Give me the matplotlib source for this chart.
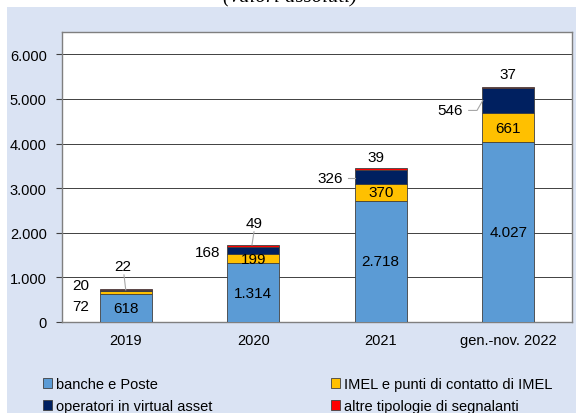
import numpy as np
import matplotlib.pyplot as plt
from matplotlib.patches import Rectangle

plt.rcParams['font.family'] = ['Liberation Sans', 'DejaVu Sans']

# Data
categories = ["2019", "2020", "2021", "gen.-nov. 2022"]
banche = [618, 1314, 2718, 4027]
imel = [72, 199, 370, 661]
virtual = [20, 168, 326, 546]
altre = [22, 49, 39, 37]
series_names = ["banche e Poste", "IMEL e punti di contatto di IMEL",
                "operatori in virtual asset", "altre tipologie di segnalanti"]
colors = ["#5B9BD5", "#FFC000", "#002060", "#FF0000"]
yticks = [0, 1000, 2000, 3000, 4000, 5000, 6000]


def fmt(v):
    return f"{v:,}".replace(",", ".")


fig = plt.figure(figsize=(5.76, 4.14), dpi=100)
# light blue panel behind the chart
fig.patches.append(Rectangle((7 / 576, 0), 1, (414 - 8) / 414, transform=fig.transFigure,
                             facecolor="#DAE3F3", edgecolor="none", zorder=-10))
# title, mostly cropped off at the top
fig.text(0.503, 1 - 7 / 414, "(valori assoluti)", ha="center", va="bottom", fontsize=15,
         style="italic", family="Liberation Serif")

ax = fig.add_axes([62 / 576, 1 - 323 / 414, (572 - 62) / 576, (323 - 33) / 414])
ax.set_facecolor("white")

x = np.arange(len(categories))
w = 0.41
bottom = np.zeros(len(categories))
handles = []
for vals, col, name in zip([banche, imel, virtual, altre], colors, series_names):
    b = ax.bar(x, vals, w, bottom=bottom, color=col, edgecolor="#404040", linewidth=0.6,
               label=name, zorder=3)
    handles.append(b)
    bottom += np.array(vals)

ax.set_xlim(-0.5, 3.5)
ax.set_ylim(0, 6500)
ax.set_yticks(yticks)
ax.set_yticklabels([fmt(v) for v in yticks], fontsize=10.5)
ax.set_xticks(x)
ax.set_xticklabels(categories, fontsize=10.5)
ax.tick_params(axis="x", length=0, pad=8)
ax.tick_params(axis="y", length=4, color="#404040", pad=7)
ax.grid(axis="y", color="#404040", linewidth=0.7, zorder=0)
for s in ax.spines.values():
    s.set_color("#7F7F7F")
    s.set_linewidth(1.0)

fs = 11
lc = "#A6A6A6"
# labels inside bars
for i in range(4):
    ax.text(x[i], banche[i] / 2, fmt(banche[i]), ha="center", va="center", fontsize=fs, zorder=5)
for i in range(1, 4):
    ax.text(x[i], banche[i] + imel[i] / 2, fmt(imel[i]), ha="center", va="center", fontsize=fs, zorder=5)

# 2019 small labels to the left of the bar
ax.text(-0.355, 360, fmt(imel[0]), ha="center", va="center", fontsize=fs)
ax.text(-0.355, 830, fmt(virtual[0]), ha="center", va="center", fontsize=fs)

# virtual asset labels to the left of the bars
ax.text(0.74, 1573, fmt(virtual[1]), ha="right", va="center", fontsize=fs)
ax.text(1.70, 3236, fmt(virtual[2]), ha="right", va="center", fontsize=fs)
ax.plot([1.743, 1.798], [3236, 3236], color=lc, linewidth=0.8, zorder=4)
ax.text(2.645, 4742, fmt(virtual[3]), ha="right", va="center", fontsize=fs)
ax.plot([2.69, 2.755, 2.80], [4742, 4742, 4966], color=lc, linewidth=0.8, zorder=4)

# labels above the bars
top_x = [-0.02, 1.01, 1.96, 3.0]
top_y = [1258, 2225, 3708, 5551]
for i in range(4):
    ax.text(top_x[i], top_y[i], fmt(altre[i]), ha="center", va="center", fontsize=fs, zorder=5)
ax.plot([-0.014, 0.0], [1056, 719], color=lc, linewidth=0.8, zorder=4)
ax.plot([1.006, 0.99], [2022, 1730], color=lc, linewidth=0.8, zorder=4)

legkw = dict(loc="upper left", frameon=False, fontsize=10.5, handlelength=0.65,
             handleheight=0.65, handletextpad=0.25, labelspacing=0.55,
             borderpad=0, borderaxespad=0)
fig.legend([handles[0], handles[2]], [series_names[0], series_names[2]],
           bbox_to_anchor=(43 / 576, 1 - 378 / 414), **legkw)
fig.legend([handles[1], handles[3]], [series_names[1], series_names[3]],
           bbox_to_anchor=(331 / 576, 1 - 378 / 414), **legkw)

fig.savefig("out.png", dpi=100)
